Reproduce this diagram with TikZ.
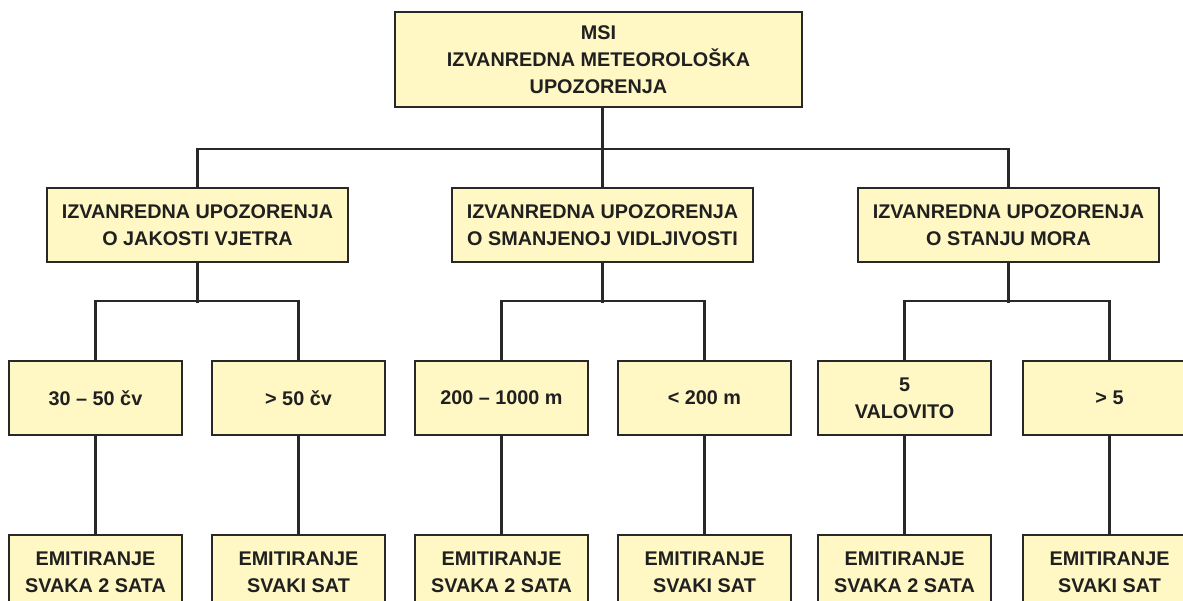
\documentclass[tikz,border=0pt]{standalone}
\usepackage{fontspec}
\setmainfont{Liberation Sans}
\usepackage{tikz}
\usetikzlibrary{positioning}
\definecolor{boxfill}{RGB}{255,248,196}
\definecolor{linegray}{RGB}{40,40,40}
\tikzset{
  msg/.style={rectangle, draw=linegray, fill=boxfill, line width=2.2pt,
    font=\fontsize{19.8}{27}\selectfont\bfseries, align=center, inner sep=0pt,
    text=linegray!80!black, minimum height=74pt},
  topmsg/.style={msg, minimum width=407pt, minimum height=95pt},
  groupmsg/.style={msg, minimum width=301pt},
  leafmsg/.style={msg, minimum width=173pt},
  link/.style={line width=2.1pt, color=linegray},
}

\begin{document}
\begin{tikzpicture}[x=1pt, y=-1pt, node distance=98pt]
  \useasboundingbox (0,0) rectangle (1183,601);

  \node[topmsg] (msi) at (598.5,59.5) {MSI\\IZVANREDNA METEOROLOŠKA\\UPOZORENJA};

  \node[groupmsg] (wind) at (197.5,225) {IZVANREDNA UPOZORENJA\\O JAKOSTI VJETRA};
  \node[groupmsg] (vis)  at (602.5,225) {IZVANREDNA UPOZORENJA\\O SMANJENOJ VIDLJIVOSTI};
  \node[groupmsg] (sea)  at (1008.5,225) {IZVANREDNA UPOZORENJA\\O STANJU MORA};

  \node[leafmsg] (wlow)  at (95.5,398)  {30 – 50 čv};
  \node[leafmsg] (whigh) at (298.5,398) {> 50 čv};
  \node[leafmsg] (vlow)  at (501.5,398) {200 – 1000 m};
  \node[leafmsg] (vhigh) at (704.5,398) {< 200 m};
  \node[leafmsg] (slow)  at (904.5,398) {5\\VALOVITO};
  \node[leafmsg] (shigh) at (1109.5,398) {> 5};

  \node[leafmsg, below=of wlow]  (ewlow)  {EMITIRANJE\\SVAKA 2 SATA};
  \node[leafmsg, below=of whigh] (ewhigh) {EMITIRANJE\\SVAKI SAT};
  \node[leafmsg, below=of vlow]  (evlow)  {EMITIRANJE\\SVAKA 2 SATA};
  \node[leafmsg, below=of vhigh] (evhigh) {EMITIRANJE\\SVAKI SAT};
  \node[leafmsg, below=of slow]  (eslow)  {EMITIRANJE\\SVAKA 2 SATA};
  \node[leafmsg, below=of shigh] (eshigh) {EMITIRANJE\\SVAKI SAT};

  % top level
  \draw[link] (vis.north) -- (vis.north |- msi.south);
  \draw[link] (wind.north) -- ++(0,-38) -| (sea.north);

  % groups to thresholds
  \foreach \g/\a/\b in {wind/wlow/whigh, vis/vlow/vhigh, sea/slow/shigh} {
    \draw[link] (\g.south) -- ++(0,40);
    \draw[link] (\a.north) -- ++(0,-59) -| (\b.north);
  }

  % thresholds to emission
  \foreach \a in {wlow, whigh, vlow, vhigh, slow, shigh}
    \draw[link] (\a.south) -- (e\a.north);
\end{tikzpicture}
\end{document}
